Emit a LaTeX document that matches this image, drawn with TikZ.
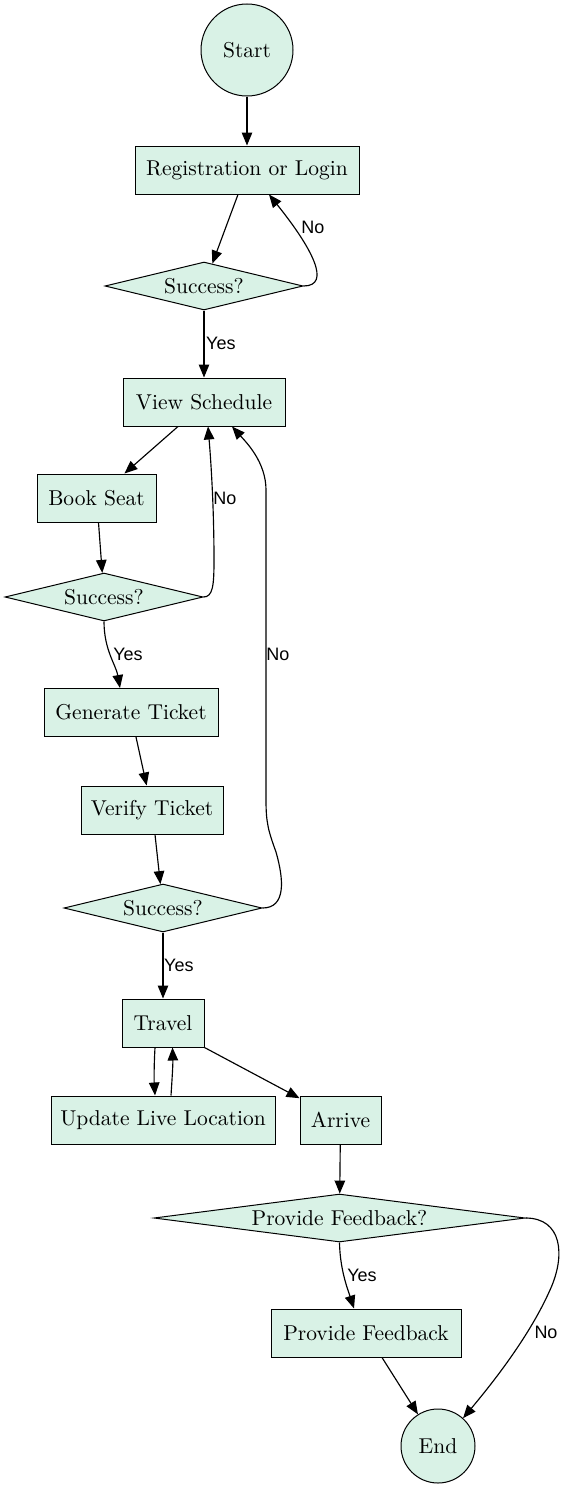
\documentclass[tikz,border=0pt]{standalone}
\usepackage{fontspec}
\newfontfamily\labfont{Liberation Sans}
\newfontfamily\nodefont{lmroman10-regular}[Extension=.otf]
\usetikzlibrary{shapes.geometric,arrows.meta}
\definecolor{nodefill}{RGB}{217,242,230}
\tikzset{
  base/.style={draw=black, line width=1pt, fill=nodefill, inner sep=0pt, font=\nodefont\fontsize{21.5}{24}\selectfont},
  procbox/.style={base, rectangle, minimum height=48pt},
  decide/.style={base, diamond, minimum height=48pt},
  term/.style={base, circle},
  arr/.style={line width=1.15pt, -{Triangle[length=13pt,width=10.5pt]}},
  lab/.style={font=\labfont\fontsize{18}{21}\selectfont, inner sep=0pt}
}
\begin{document}
\begin{tikzpicture}[x=1pt,y=-1pt]
\useasboundingbox (0,0) rectangle (566,1491);
% nodes
\node[term, minimum size=92pt] (start) at (247,50) {Start};
\node[procbox, minimum width=224pt] (reg) at (247,170) {Registration or Login};
\node[decide, aspect=4.1, minimum width=198pt] (s1) at (204,286) {Success?};
\node[procbox, minimum width=162pt] (view) at (204,402) {View Schedule};
\node[procbox, minimum width=119pt] (book) at (96.5,498) {Book Seat};
\node[decide, aspect=4.1, minimum width=198pt] (s2) at (104,597) {Success?};
\node[procbox, minimum width=174pt] (gen) at (131,712.5) {Generate Ticket};
\node[procbox, minimum width=142pt] (ver) at (152,810) {Verify Ticket};
\node[decide, aspect=4.1, minimum width=198pt] (s3) at (163,908) {Success?};
\node[procbox, minimum width=82pt] (travel) at (163,1023) {Travel};
\node[procbox, minimum width=224pt] (upd) at (163,1120) {Update Live Location};
\node[procbox, minimum width=81pt] (arrive) at (340.5,1120) {Arrive};
\node[decide, aspect=7.7, minimum width=371pt] (pf) at (339.5,1218) {Provide Feedback?};
\node[procbox, minimum width=190pt] (pfb) at (366,1333) {Provide Feedback};
\node[term, minimum size=74pt] (end) at (438,1446) {End};
% edges
\draw[arr] (start) -- (reg);
\draw[arr] ([xshift=-9pt]reg.south) -- (s1);
\draw[arr] (s1.east) .. controls (332,286) and (312,248) .. ([xshift=22pt]reg.south);
\node[lab] (l1) at (313,227) {No};
\draw[arr] (s1) -- (view);
\node[lab, anchor=west] (l2) at (206,343) {Yes};
\draw[arr] ([xshift=-26pt]view.south) -- (book);
\draw[arr] ([xshift=2pt]book.south) -- (s2);
\draw[arr] (s2.east) .. controls (213,597) and (214,585) .. (214,560)
  .. controls (214,500) and (210,450) .. ([xshift=4pt]view.south);
\node[lab] (l3) at (225,498) {No};
\draw[arr] (s2.south) .. controls (104,650) and (116,665) .. ([xshift=-11pt]gen.north);
\node[lab] (l4) at (128,654) {Yes};
\draw[arr] ([xshift=5pt]gen.south) -- (ver);
\draw[arr] ([xshift=3pt]ver.south) -- (s3);
\draw[arr] (s3.east) .. controls (286,908) and (284,880) .. (276,852)
  .. controls (268,830) and (266,822) .. (266,800) -- (266,490)
  .. controls (266,462) and (246,442) .. ([xshift=28pt]view.south);
\node[lab] (l5) at (278,654) {No};
\draw[arr] (s3) -- (travel);
\node[lab, anchor=west] (l6) at (164,965) {Yes};
\draw[arr] ([xshift=-8pt]travel.south) .. controls (154,1065) and (154,1080) .. ([xshift=-8pt]upd.north);
\draw[arr] ([xshift=8pt]upd.north) .. controls (172,1080) and (173,1065) .. ([xshift=9.5pt]travel.south);
\draw[arr] (travel.south east) -- (arrive);
\draw[arr] (arrive) -- (pf);
\draw[arr] (pf.south) .. controls (340,1270) and (348,1290) .. ([xshift=-12pt]pfb.north);
\node[lab] (l7) at (362,1275) {Yes};
\draw[arr] (pf.east) .. controls (562,1218) and (566,1255) .. (550,1290)
  .. controls (530,1335) and (495,1380) .. (end.48);
\node[lab] (l8) at (546,1332) {No};
\draw[arr] ([xshift=16pt]pfb.south) -- (end);
\end{tikzpicture}
\end{document}
